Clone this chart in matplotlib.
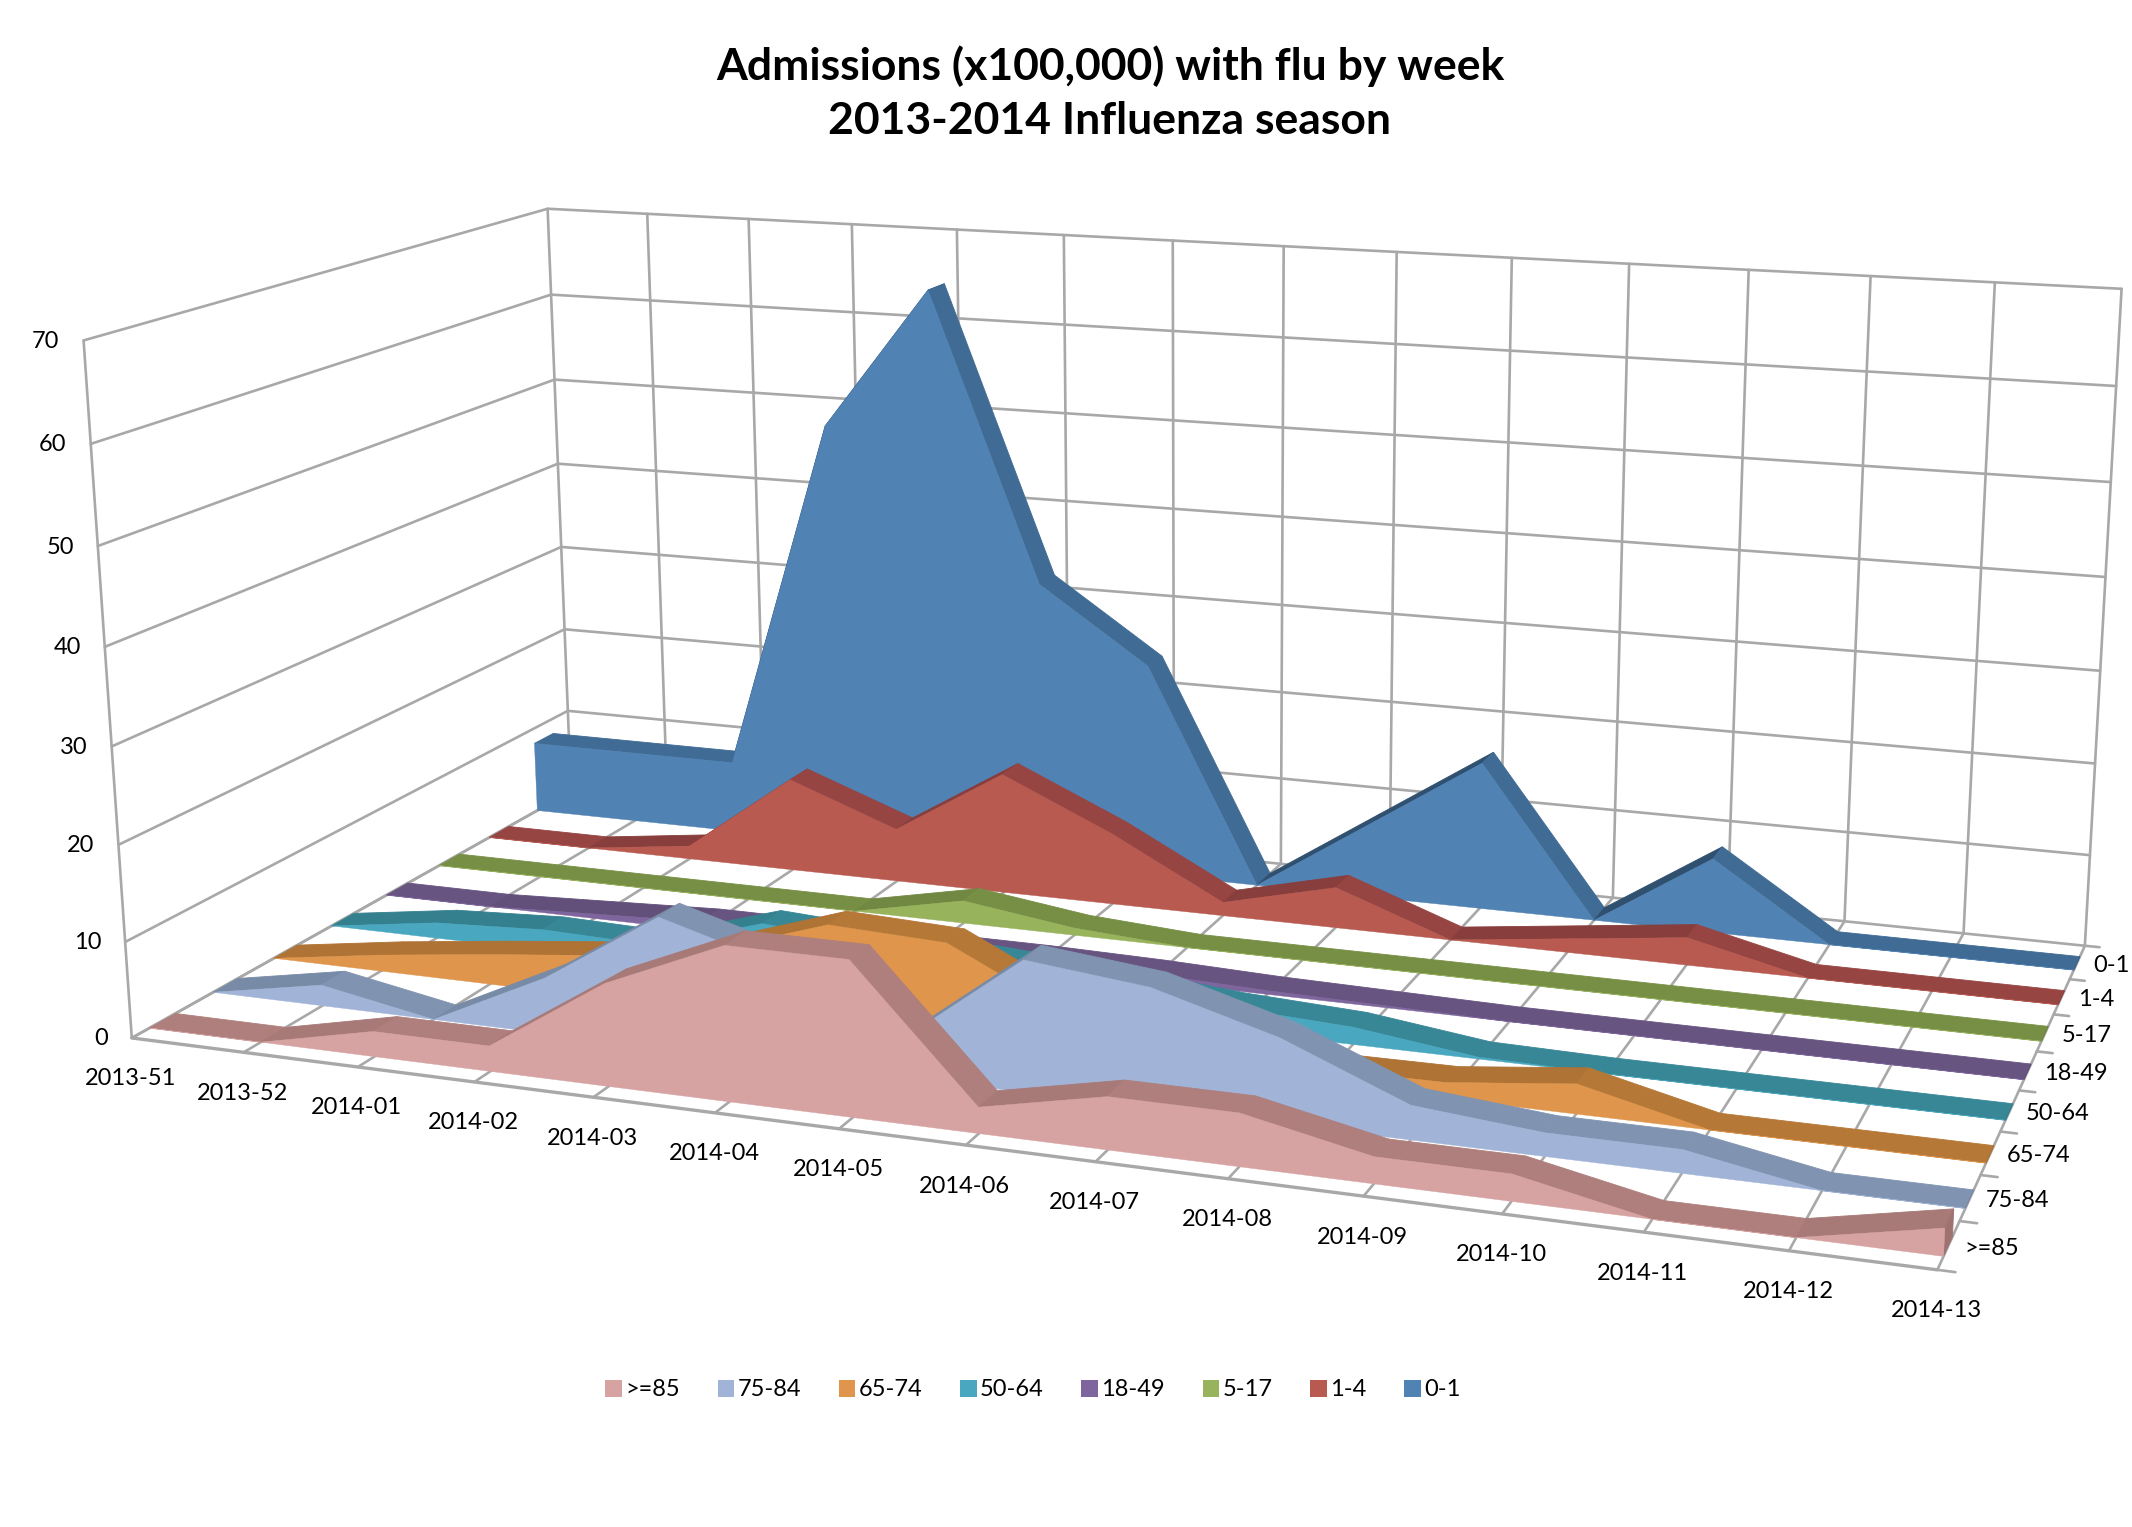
import numpy as np
from matplotlib import pyplot as plt
from matplotlib.patches import Patch
from matplotlib.colors import to_rgb

plt.rcParams['font.family'] = ['Lato', 'DejaVu Sans']

weeks = ['2013-51', '2013-52', '2014-01', '2014-02', '2014-03', '2014-04', '2014-05', '2014-06',
         '2014-07', '2014-08', '2014-09', '2014-10', '2014-11', '2014-12', '2014-13']
groups = ['>=85', '75-84', '65-74', '50-64', '18-49', '5-17', '1-4', '0-1']

age_85 = [0, 0, 2.6, 2.6, 10.4, 15.6, 15.6, 2.6, 5.2, 5.2, 2.6, 2.6, 0, 0, 2.6]
age_75 = [0, 2.2, 0, 5.8, 13.5, 10, 3.8, 13.3, 12, 8.5, 3.4, 2.3, 2.3, 0, 0]
age_65 = [0, 1.75, 3.2, 4.5, 6.5, 10.5, 10, 4, 3, 1.5, 1.6, 3, 0, 0, 0]
age_50 = [0, 1.7, 2.3, 2, 5.7, 5, 4.4, 3.5, 2.4, 1.8, 0.2, 0, 0, 0, 0]
age_18 = [0, 0, 0.5, 1, 1, 1, 1, 0.8, 0.4, 0.2, 0, 0, 0, 0, 0]
age_5 = [0, 0, 0, 0, 0, 2.5, 0.8, 0, 0, 0, 0, 0, 0, 0, 0]
age_1 = [0, 0, 1.5, 10.5, 6, 13.5, 8, 1.5, 4.5, 0, 1.5, 3, 0, 0, 0]
age_0 = [8.2, 8.2, 8.2, 48.5, 64.5, 32.3, 24, 0, 8.2, 16.4, 0, 8.2, 0, 0, 0]
all_series = [age_85, age_75, age_65, age_50, age_18, age_5, age_1, age_0]

front_colors = ['#D6A2A2', '#A1B4D7', '#DF954B', '#49A8C0', '#7E659E', '#97B35C', '#B85A50', '#5082B4']
top_colors = ['#AE7F7C', '#8094B1', '#B57837', '#388797', '#685480', '#778F45', '#964543', '#3F6B94']
rise_shade = [0.96, 0.94, 0.96, 0.95, 0.95, 0.95, 0.9, 0.75]
z_ticks = [0, 10, 20, 30, 40, 50, 60, 70]

n_weeks = len(weeks) - 1
n_groups = len(groups)
grid_color = '#A8A8A8'

# camera for the box: (week, group slot, value) -> pixel, solved from the box corners
box_3d = [(0, 0, 0), (n_weeks, 0, 0), (n_weeks, n_groups, 0), (0, n_groups, 0),
          (0, 0, 70), (0, n_groups, 70), (n_weeks, n_groups, 70)]
box_px = [(128, 1039), (1938, 1268), (2083.5, 948), (575, 790),
          (87, 341), (544, 209), (2122.5, 288)]
rows = []
rhs = []
for (X, Y, Z), (u, v) in zip(box_3d, box_px):
    rows.append([X, Y, Z, 1, 0, 0, 0, 0, -u * X, -u * Y, -u * Z])
    rows.append([0, 0, 0, 0, X, Y, Z, 1, -v * X, -v * Y, -v * Z])
    rhs += [u, v]
h = np.linalg.lstsq(np.array(rows, float), np.array(rhs, float), rcond=None)[0]
cam = np.append(h, 1.0).reshape(3, 4)


def project(x, y, z):
    x, y, z = np.broadcast_arrays(np.asarray(x, float), np.asarray(y, float), np.asarray(z, float))
    p = cam @ np.vstack([x.ravel(), y.ravel(), z.ravel(), np.ones(x.size)])
    return p[0] / p[2], p[1] / p[2]


def line3d(x, y, z, lw=1.9, zorder=1):
    ax.plot(*project(x, y, z), color=grid_color, lw=lw, zorder=zorder, solid_capstyle='round')


def darker(color, f):
    return tuple(c * f for c in to_rgb(color))


fig = plt.figure(figsize=(21.32, 15.27), dpi=100)
ax = fig.add_axes([0, 0, 1, 1])
ax.set_xlim(0, 2132)
ax.set_ylim(1527, 0)
ax.axis('off')

# walls and floor
for z in z_ticks:
    line3d([0, 0, n_weeks], [0, n_groups, n_groups], [z, z, z])
for i in range(n_weeks + 1):
    line3d([i, i], [n_groups, n_groups], [0, 70])
    line3d([i, i], [0, n_groups], [0, 0])
line3d([0, 0], [0, 0], [0, 70])
line3d([0, n_weeks], [0, 0], [0, 0], lw=2.4)
for s in range(n_groups + 1):
    line3d([n_weeks, n_weeks + 0.12], [s, s], [0, 0])

# ribbons, back row first
y_front, y_back = 0.27, 0.67
x_pos = np.arange(n_weeks + 1)
for s in range(n_groups - 1, -1, -1):
    vals = np.array(all_series[s], float)
    y0, y1 = s + y_front, s + y_back
    for i in range(n_weeks):
        qx = [x_pos[i], x_pos[i + 1], x_pos[i + 1], x_pos[i]]
        qy = [y0, y0, y1, y1]
        qz = [vals[i], vals[i + 1], vals[i + 1], vals[i]]
        col = top_colors[s]
        if vals[i + 1] > vals[i]:
            col = darker(col, rise_shade[s])
        u, v = project(qx, qy, qz)
        ax.fill(u, v, color=col, lw=0.6, zorder=2 + (n_groups - s) * 2)
    # end cap at the last week
    u, v = project([n_weeks] * 4, [y0, y1, y1, y0], [0, 0, vals[-1], vals[-1]])
    ax.fill(u, v, color=darker(top_colors[s], 0.9), lw=0.6, zorder=2 + (n_groups - s) * 2)
    # front face
    fx = np.r_[x_pos, x_pos[::-1]]
    fz = np.r_[vals, np.zeros(n_weeks + 1)]
    u, v = project(fx, np.full(fx.size, y0), fz)
    ax.fill(u, v, color=front_colors[s], lw=0.3, zorder=3 + (n_groups - s) * 2)

# tick labels
for z in z_ticks:
    u, v = project(0, 0, z)
    ax.text(u[0] - 24, v[0] + 1, str(z), ha='right', va='center', fontsize=17, color='black')
for i, w in enumerate(weeks):
    u, v = project(i, 0, 0)
    ax.text(u[0] - 1, v[0] + 41, w, ha='center', va='center', fontsize=17, color='black')
for s, g in enumerate(groups):
    u, v = project(n_weeks, s + 0.5, 0)
    ax.text(u[0] + 16, v[0] + 3, g, ha='left', va='center', fontsize=17, color='black')

ax.text(1110, 93, 'Admissions (x100,000) with flu by week\n2013-2014 Influenza season',
        ha='center', va='center', fontsize=32, fontweight='bold', linespacing=1.42)

handles = [Patch(facecolor=c, label=g) for g, c in zip(groups, front_colors)]
ax.legend(handles=handles, ncol=8, loc='center', bbox_to_anchor=(1033, 1390),
          bbox_transform=ax.transData, frameon=False, fontsize=17, handlelength=0.7,
          handleheight=0.7, handletextpad=0.15, columnspacing=1.59)

fig.savefig('out.png', dpi=100)
